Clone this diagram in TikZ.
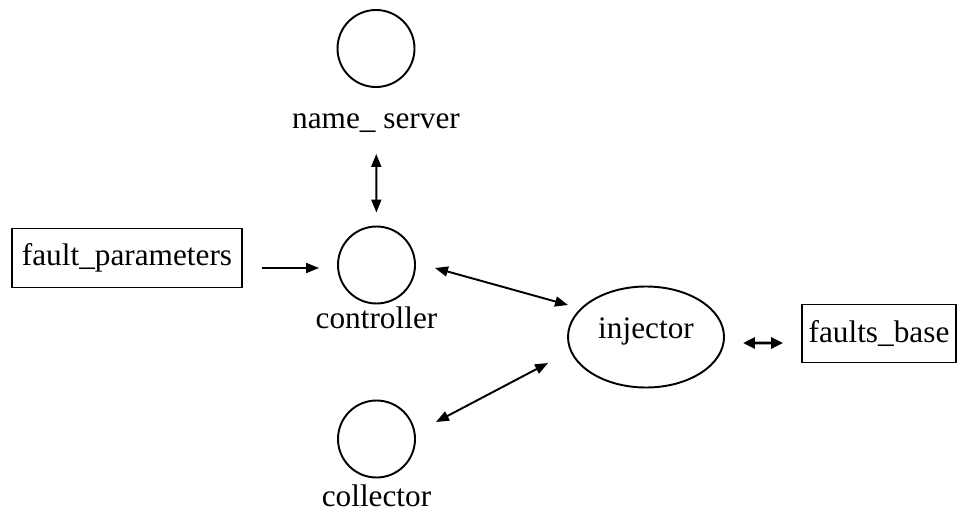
\documentclass[tikz,border=0pt]{standalone}
\usepackage{fontspec}
\setmainfont{Liberation Serif}
\usetikzlibrary{arrows.meta,shapes.geometric}
\tikzset{
  proc/.style={circle, draw, line width=1.1pt, minimum size=1.54cm, inner sep=0pt},
  procname/.style={anchor=base, inner sep=0pt},
  store/.style={rectangle, draw, line width=1.1pt, inner sep=0pt},
  agent/.style={ellipse, draw, line width=1.1pt, inner sep=0pt, text height=3mm, text depth=2.6mm},
  link/.style={line width=1.1pt, -{Triangle[length=2.6mm,width=2mm]}},
  duplex/.style={line width=1.1pt, {Triangle[length=2.6mm,width=2mm]}-{Triangle[length=2.6mm,width=2mm]}},
  bold duplex/.style={line width=1.7pt, {Triangle[length=2.4mm,width=2.2mm]}-{Triangle[length=2.4mm,width=2.2mm]}},
}

\begin{document}
\begin{tikzpicture}[font=\fontsize{17.8}{21}\selectfont]
\useasboundingbox (0,0) rectangle (19.18,10.24);
% processes
\node[proc] (ns) at (7.52,9.27) {};
\node[proc] (ctrl) at (7.53,4.94) {};
\node[proc] (coll) at (7.53,1.46) {};
\node[procname] (nslbl) at (7.52,7.68) {name\_ server};
\node[procname] (ctrllbl) at (7.53,3.68) {controller};
\node[procname] (colllbl) at (7.53,0.12) {collector};
\node[agent, minimum width=3.12cm, minimum height=2.02cm] (inj) at (12.92,3.5) {injector};
% data stores
\node[store, minimum width=4.6cm, minimum height=1.18cm] (fp) at (2.54,5.08) {fault\_parameters};
\node[store, minimum width=3.08cm, minimum height=1.16cm] (fb) at (17.58,3.57) {faults\_base};
% flows
\draw[link] ([xshift=3.8mm,yshift=-2mm]fp.east) -- ([xshift=-3.6mm,yshift=-0.6mm]ctrl.west);
\draw[duplex, shorten <=1.32cm, shorten >=0.26cm] (ns) -- (ctrl);
\draw[duplex] ([xshift=3.8mm,yshift=-0.6mm]ctrl.east) -- ([xshift=0.2mm,yshift=6.4mm]inj.west);
\draw[duplex] ([xshift=4mm,yshift=3.4mm]coll.east) -- ([xshift=-3.8mm,yshift=-5.2mm]inj.west);
\draw[bold duplex] ([xshift=3.6mm,yshift=-1.2mm]inj.east) -- ([xshift=-3.6mm,yshift=-1.9mm]fb.west);
\end{tikzpicture}
\end{document}
